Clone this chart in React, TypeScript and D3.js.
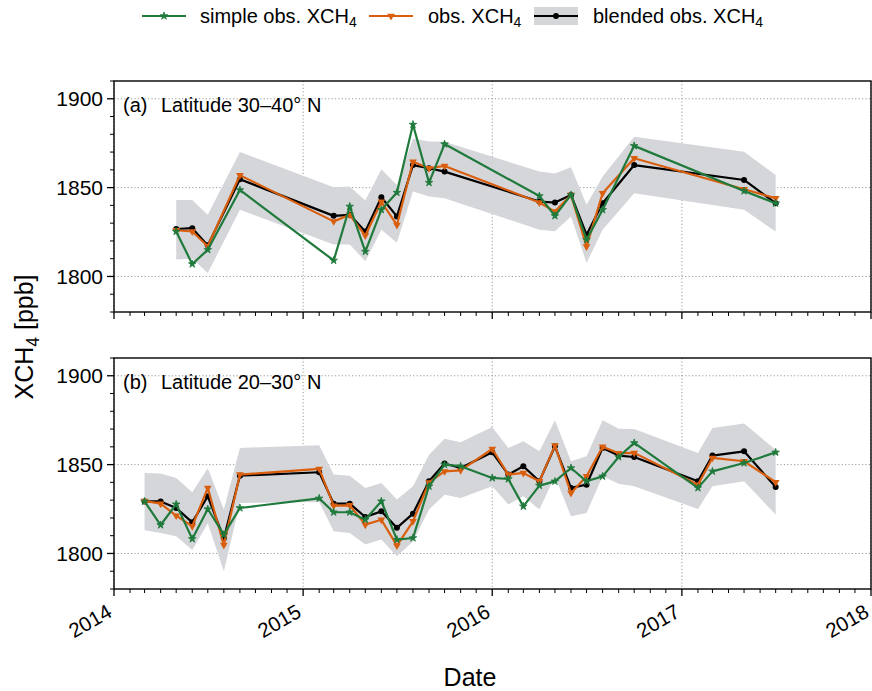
import * as d3 from 'd3';

const FONT = '"Liberation Sans", Arial, sans-serif';
const GREEN = '#1f7a3c';
const ORANGE = '#d95f0e';
const BAND = '#d5d6da';

// panel (a) latitude 30-40 N
const A_DATES = ['2014-05', '2014-06', '2014-07', '2014-09', '2015-03', '2015-04', '2015-05', '2015-06', '2015-07', '2015-08',
  '2015-09', '2015-10', '2016-04', '2016-05', '2016-06', '2016-07', '2016-08', '2016-10', '2017-05', '2017-07'];
const A_BLENDED = [1826.7, 1827.2, 1817.5, 1854.7, 1834.1, 1834.7, 1825.3, 1844.6, 1833.8, 1862.7,
  1860.9, 1859, 1842.2, 1841.6, 1845.9, 1823.5, 1841.2, 1862.7, 1854.3, 1841.2];
const A_OBS = [1826, 1825.3, 1817, 1857, 1831, 1834.7, 1823, 1842, 1829, 1864.6,
  1860.9, 1862.2, 1841.6, 1836.5, 1845.9, 1816.9, 1846.8, 1866.5, 1849.1, 1844];
const A_SIMPLE = [1825.3, 1807, 1815, 1848.7, 1809, 1839.4, 1814, 1837.5, 1847.2, 1885.5,
  1852.8, 1874.5, 1845.3, 1834.1, 1845.9, 1820.7, 1837.5, 1873.5, 1848.1, 1841.2];
const A_LOW = [1809.5, 1810, 1802, 1837.5, 1818, 1818, 1808.5, 1826.3, 1819, 1847.8,
  1845, 1844, 1826.3, 1825.4, 1833.8, 1807.6, 1826.3, 1846.8, 1837.5, 1825.3];
const A_HIGH = [1843.1, 1843, 1834.7, 1870, 1850.2, 1850.6, 1842.7, 1860.3, 1851.5, 1877.7,
  1876, 1875.8, 1859, 1858, 1861.4, 1840.3, 1856.2, 1878.6, 1870.2, 1857.1];

// panel (b) latitude 20-30 N
const B_DATES = ['2014-03', '2014-04', '2014-05', '2014-06', '2014-07', '2014-08', '2014-09',
  '2015-02', '2015-03', '2015-04', '2015-05', '2015-06', '2015-07', '2015-08', '2015-09', '2015-10', '2015-11',
  '2016-01', '2016-02', '2016-03', '2016-04', '2016-05', '2016-06', '2016-07', '2016-08', '2016-09', '2016-10',
  '2017-02', '2017-03', '2017-05', '2017-07'];
const B_BLENDED = [1829.3, 1829.3, 1825.6, 1817.5, 1832.2, 1808.5, 1843.8,
  1845.7, 1828, 1828, 1820.5, 1823.7, 1814.4, 1822.4, 1840.6, 1850.6, 1848.1,
  1856.9, 1844.4, 1849.1, 1840.6, 1860.3, 1836.9, 1838.7, 1859.4, 1855.1, 1854.3,
  1840.6, 1855.1, 1857.5, 1837.4];
const B_OBS = [1829.6, 1828, 1821.3, 1815.3, 1836.9, 1804.7, 1844.4,
  1847.6, 1826.9, 1827.1, 1816.2, 1819, 1804.4, 1818.1, 1840, 1846.2, 1846.8,
  1858.8, 1844.4, 1845.3, 1840.6, 1860.7, 1834, 1843.4, 1860, 1856.4, 1856.6,
  1838.7, 1853.8, 1851.9, 1840.1];
const B_SIMPLE = [1829.3, 1816, 1827.7, 1808.2, 1825, 1810.6, 1825.6,
  1831, 1823.2, 1823.2, 1819, 1829.4, 1807.8, 1808.7, 1837.8, 1850, 1849.1,
  1842.5, 1841.9, 1826.5, 1838.2, 1840.6, 1848.1, 1840.6, 1843.4, 1854.3, 1862.2,
  1836.9, 1846.2, 1850.9, 1856.9];
const B_LOW = [1813, 1811.5, 1809.7, 1802, 1817, 1790, 1828.4,
  1829, 1812.5, 1811.5, 1805, 1807.8, 1798.4, 1806.8, 1824.7, 1833.1, 1831.2,
  1837.8, 1827.5, 1832.2, 1824.7, 1843.4, 1820.9, 1822.8, 1843.4, 1839.2, 1837.8,
  1825, 1837.8, 1840.6, 1821.9];
const B_HIGH = [1845.3, 1845, 1842.5, 1834.4, 1848, 1824.7, 1859.4,
  1860.9, 1844.4, 1843.8, 1836.9, 1839.7, 1830.3, 1837.8, 1855.6, 1864.6, 1862.6,
  1871.2, 1859.4, 1863.1, 1857.5, 1875, 1851.9, 1854.7, 1875, 1870.2, 1870.1,
  1856.6, 1870.6, 1873.1, 1858.4];

const Y_TICKS = [1800, 1850, 1900];
const YEARS = [2014, 2015, 2016, 2017, 2018];

const W = 872;
const H = 691;
const LEFT = 114;
const RIGHT = 871;
const PANEL_H = 231;
const PANEL_TOPS = [81, 358];

const parse = d3.timeParse('%Y-%m');
const x = d3.scaleTime()
  .domain([new Date(2014, 0, 1), new Date(2018, 0, 1)])
  .range([LEFT, RIGHT]);

type Row = { d: Date; blended: number; obs: number; simple: number; low: number; high: number };

function rows(dates: string[], bl: number[], ob: number[], si: number[], lo: number[], hi: number[]): Row[] {
  return dates.map((s, i) => ({ d: parse(s) as Date, blended: bl[i], obs: ob[i], simple: si[i], low: lo[i], high: hi[i] }));
}

const PANELS = [
  { tag: '(a)', title: 'Latitude 30–40° N', data: rows(A_DATES, A_BLENDED, A_OBS, A_SIMPLE, A_LOW, A_HIGH) },
  { tag: '(b)', title: 'Latitude 20–30° N', data: rows(B_DATES, B_BLENDED, B_OBS, B_SIMPLE, B_LOW, B_HIGH) },
];

const star = d3.symbol().type(d3.symbolStar).size(18)() as string;
const tri = d3.symbol().type(d3.symbolTriangle).size(26)() as string;

function Marker({ kind, cx, cy }: { kind: string; cx: number; cy: number }) {
  if (kind === 'simple') return <path d={star} transform={`translate(${cx},${cy})`} fill={GREEN} stroke={GREEN} strokeWidth={0.8} />;
  if (kind === 'obs') return <path d={tri} transform={`translate(${cx},${cy}) rotate(180)`} fill={ORANGE} />;
  return <circle cx={cx} cy={cy} r={3} fill="#000" />;
}

function Panel({ top, tag, title, data }: { top: number; tag: string; title: string; data: Row[] }) {
  const y = d3.scaleLinear().domain([1780, 1910]).range([top + PANEL_H, top]);
  const area = d3.area<Row>().x((r) => x(r.d)).y0((r) => y(r.low)).y1((r) => y(r.high));
  const line = (k: 'blended' | 'obs' | 'simple') => d3.line<Row>().x((r) => x(r.d)).y((r) => y(r[k]))(data) as string;
  const bottom = top + PANEL_H;
  const months = d3.timeMonth.range(new Date(2014, 0, 1), new Date(2018, 0, 2));
  const minorY = d3.range(1780, 1911, 10);
  const series: { k: 'blended' | 'obs' | 'simple'; c: string }[] = [
    { k: 'blended', c: '#000' },
    { k: 'obs', c: ORANGE },
    { k: 'simple', c: GREEN },
  ];
  return (
    <g>
      {/* grid */}
      {Y_TICKS.map((t) => (
        <line key={t} x1={LEFT} x2={RIGHT} y1={y(t)} y2={y(t)} stroke="#999" strokeWidth={1} strokeDasharray="1.2,2.2" />
      ))}
      {YEARS.map((yr) => (
        <line key={yr} x1={x(new Date(yr, 0, 1))} x2={x(new Date(yr, 0, 1))} y1={top} y2={bottom} stroke="#999" strokeWidth={1} strokeDasharray="1.2,2.2" />
      ))}
      <path d={area(data) as string} fill={BAND} />
      {series.map((s) => (
        <g key={s.k}>
          <path d={line(s.k)} fill="none" stroke={s.c} strokeWidth={2.2} strokeLinejoin="round" />
          {data.map((r, i) => <Marker key={i} kind={s.k} cx={x(r.d)} cy={y(r[s.k])} />)}
        </g>
      ))}
      {/* frame */}
      <rect x={LEFT} y={top} width={RIGHT - LEFT} height={PANEL_H} fill="none" stroke="#000" strokeWidth={1.4} />
      {months.map((m, i) => {
        const major = m.getMonth() === 0;
        return <line key={i} x1={x(m)} x2={x(m)} y1={bottom} y2={bottom + (major ? 7 : 4)} stroke="#000" strokeWidth={major ? 1.3 : 1} />;
      })}
      {minorY.map((v) => {
        const major = v % 50 === 0;
        return <line key={v} x1={LEFT - (major ? 7 : 4)} x2={LEFT} y1={y(v)} y2={y(v)} stroke="#000" strokeWidth={major ? 1.3 : 1} />;
      })}
      {Y_TICKS.map((t) => (
        <text key={t} x={LEFT - 11} y={y(t)} dy="0.36em" textAnchor="end" fontSize={21} fontFamily={FONT}>{t}</text>
      ))}
      <text x={LEFT + 9} y={top + 31} fontSize={20} fontFamily={FONT}>{tag}</text>
      <text x={LEFT + 47} y={top + 31} fontSize={20} fontFamily={FONT}>{title}</text>
    </g>
  );
}

function XCH4({ size }: { size: number }) {
  return (
    <>
      XCH<tspan fontSize={size * 0.7} dy={size * 0.22}>4</tspan>
    </>
  );
}

function Legend() {
  const cy = 16;
  const items = [
    { k: 'simple', c: GREEN, x0: 142, tx: 200, label: 'simple obs. ' },
    { k: 'obs', c: ORANGE, x0: 369, tx: 428, label: 'obs. ' },
    { k: 'blended', c: '#000', x0: 534, tx: 593, label: 'blended obs. ' },
  ];
  return (
    <g>
      {items.map((it) => (
        <g key={it.k}>
          {it.k === 'blended' && <rect x={it.x0} y={cy - 9} width={44} height={18} fill={BAND} />}
          <line x1={it.x0} x2={it.x0 + 44} y1={cy} y2={cy} stroke={it.c} strokeWidth={2.2} />
          <Marker kind={it.k} cx={it.x0 + 22} cy={cy} />
          <text x={it.tx} y={cy + 7} fontSize={20} fontFamily={FONT}>
            {it.label}<XCH4 size={20} />
          </text>
        </g>
      ))}
    </g>
  );
}

export default function App() {
  const bottom = PANEL_TOPS[1] + PANEL_H;
  return (
    <div style={{ position: 'absolute', left: 0, top: 0 }}>
      <svg width={W} height={H} style={{ display: 'block', background: '#fff' }}>
        <Legend />
        {PANELS.map((p, i) => <Panel key={p.tag} top={PANEL_TOPS[i]} tag={p.tag} title={p.title} data={p.data} />)}
        {YEARS.map((yr) => {
          const px = x(new Date(yr, 0, 1));
          return (
            <text key={yr} transform={`translate(${px - 8},${bottom + 14}) rotate(-30)`} textAnchor="end" dy="0.72em" fontSize={20.5} fontFamily={FONT}>{yr}</text>
          );
        })}
        <text x={470} y={686} textAnchor="middle" fontSize={25} fontFamily={FONT}>Date</text>
        <text transform="translate(33,337) rotate(-90)" textAnchor="middle" fontSize={25} fontFamily={FONT}>
          <XCH4 size={25} /><tspan dy={-25 * 0.22}> [ppb]</tspan>
        </text>
      </svg>
    </div>
  );
}
